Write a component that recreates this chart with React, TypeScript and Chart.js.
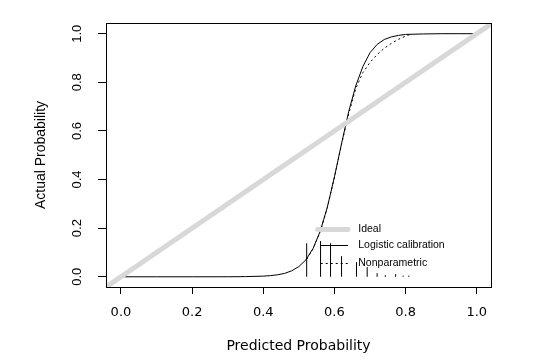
import React, { useEffect, useRef } from "react";
import { Chart, registerables } from "chart.js";
Chart.register(...registerables);

const FONT = "'Liberation Sans', Arial, sans-serif";
const WIDE_FONT = "'DejaVu Sans', 'Liberation Sans', sans-serif";

const tickValues = [0, 0.2, 0.4, 0.6, 0.8, 1.0];
const xTitle = "Predicted Probability";
const yTitle = "Actual Probability";

const idealX = [-0.1, 1.1];
const idealY = [-0.1, 1.1];

const logisticX = [0, 0.1, 0.2, 0.3, 0.35, 0.4, 0.42, 0.44, 0.46, 0.48, 0.5, 0.52, 0.54, 0.56, 0.58, 0.6, 0.62, 0.64, 0.66, 0.68, 0.7, 0.72, 0.74, 0.76, 0.78, 0.8, 0.85, 0.9, 0.95, 1.0];
const logisticY = [0, 0, 0, 0.0001, 0.0007, 0.0027, 0.0047, 0.0082, 0.014, 0.0246, 0.042, 0.07, 0.117, 0.187, 0.286, 0.411, 0.548, 0.679, 0.786, 0.865, 0.922, 0.956, 0.976, 0.987, 0.993, 0.997, 0.999, 1, 1, 1];

const nonparX = [0.522, 0.54, 0.56, 0.58, 0.6, 0.62, 0.64, 0.66, 0.68, 0.7, 0.72, 0.74, 0.76, 0.78, 0.8, 0.817];
const nonparY = [0.072, 0.115, 0.185, 0.285, 0.41, 0.545, 0.67, 0.775, 0.84, 0.882, 0.914, 0.94, 0.96, 0.977, 0.99, 1.0];

const spikeX = [0.522, 0.561, 0.589, 0.62, 0.662, 0.692, 0.72, 0.743, 0.772, 0.793, 0.809];
const spikeH = [0.138, 0.147, 0.138, 0.085, 0.06, 0.04, 0.015, 0.007, 0.011, 0.005, 0.005];

const legendLabels = ["Ideal", "Logistic calibration", "Nonparametric"];
const legendRowY = [0.196, 0.13, 0.055];
const legendLineX = [0.553, 0.638];
const legendTextX = 0.667;

const GRAY = "#d8d8d8";

const boxAndLegend = {
  id: "boxAndLegend",
  afterDatasetsDraw(chart: any) {
    const { ctx, chartArea, scales } = chart;
    const xs = scales.x;
    const ys = scales.y;
    ctx.save();
    const styles = [
      { color: GRAY, width: 5, dash: [] as number[] },
      { color: "#000", width: 1, dash: [] as number[] },
      { color: "#000", width: 1, dash: [2, 3] },
    ];
    legendLabels.forEach((lab, i) => {
      const y = Math.round(ys.getPixelForValue(legendRowY[i])) + 0.5;
      const x0 = xs.getPixelForValue(legendLineX[0]) + (i === 0 ? 0 : 3);
      const x1 = xs.getPixelForValue(legendLineX[1]);
      ctx.strokeStyle = styles[i].color;
      ctx.lineWidth = styles[i].width;
      ctx.setLineDash(styles[i].dash);
      ctx.lineCap = i === 0 ? "round" : "butt";
      ctx.beginPath();
      ctx.moveTo(x0, y);
      ctx.lineTo(x1, y);
      ctx.stroke();
      ctx.setLineDash([]);
      ctx.fillStyle = "#000";
      ctx.font = `10.5px ${FONT}`;
      ctx.textAlign = "left";
      ctx.textBaseline = "middle";
      ctx.fillText(lab, xs.getPixelForValue(legendTextX), y);
    });
    ctx.strokeStyle = "#000";
    ctx.lineWidth = 1;
    ctx.setLineDash([]);
    ctx.strokeRect(
      Math.round(chartArea.left) + 0.5,
      Math.round(chartArea.top) + 0.5,
      Math.round(chartArea.right - chartArea.left),
      Math.round(chartArea.bottom - chartArea.top)
    );
    ctx.restore();
  },
};

export default function App() {
  const ref = useRef<HTMLCanvasElement | null>(null);
  useEffect(() => {
    if (!ref.current) return;
    const spikeData: any[] = [];
    spikeX.forEach((x, i) => {
      spikeData.push({ x, y: 0 });
      spikeData.push({ x, y: spikeH[i] });
      spikeData.push({ x, y: null });
    });
    const chart = new Chart(ref.current, {
      type: "line",
      data: {
        datasets: [
          {
            label: "Ideal",
            data: idealX.map((x, i) => ({ x, y: idealY[i] })),
            borderColor: GRAY,
            borderWidth: 5,
            pointRadius: 0,
            clip: 0,
          } as any,
          {
            label: "Spikes",
            data: spikeData,
            borderColor: "#000",
            borderWidth: 1,
            pointRadius: 0,
            spanGaps: false,
            clip: 0,
          },
          {
            label: "Logistic calibration",
            data: logisticX.map((x, i) => ({ x, y: logisticY[i] })),
            borderColor: "#000",
            borderWidth: 1,
            pointRadius: 0,
            tension: 0,
            clip: 0,
          },
          {
            label: "Nonparametric",
            data: nonparX.map((x, i) => ({ x, y: nonparY[i] })),
            borderColor: "#000",
            borderWidth: 1,
            borderDash: [2, 3],
            pointRadius: 0,
            tension: 0,
            clip: 0,
          },
        ],
      },
      options: {
        animation: false,
        responsive: false,
        maintainAspectRatio: false,
        devicePixelRatio: 1,
        layout: { padding: { left: 0, top: 23, right: 43, bottom: 0 } },
        plugins: { legend: { display: false }, tooltip: { enabled: false } },
        scales: {
          x: {
            type: "linear",
            min: -0.042,
            max: 1.04,
            afterBuildTicks: (s: any) => {
              s.ticks = tickValues.map((v) => ({ value: v }));
            },
            afterFit: (s: any) => {
              s.height = 74;
            },
            grid: {
              display: true,
              drawOnChartArea: false,
              drawTicks: true,
              tickLength: 7,
              tickColor: "#000",
              color: "#000",
            },
            border: { display: false },
            ticks: {
              autoSkip: false,
              maxRotation: 0,
              minRotation: 0,
              padding: 11,
              color: "#000",
              font: { family: WIDE_FONT, size: 13 },
              callback: (v: any) => Number(v).toFixed(1),
            },
            title: {
              display: true,
              text: xTitle,
              color: "#000",
              font: { family: WIDE_FONT, size: 14 },
              padding: { top: 0, bottom: 6.6 },
            },
          },
          y: {
            type: "linear",
            min: -0.042,
            max: 1.044,
            afterBuildTicks: (s: any) => {
              s.ticks = tickValues.map((v) => ({ value: v }));
            },
            afterFit: (s: any) => {
              s.width = 106;
            },
            grid: {
              display: true,
              drawOnChartArea: false,
              drawTicks: true,
              tickLength: 8,
              tickColor: "#000",
              color: "#000",
            },
            border: { display: false },
            ticks: {
              autoSkip: false,
              minRotation: 90,
              maxRotation: 90,
              crossAlign: "center",
              padding: 11.5,
              color: "#000",
              font: { family: FONT, size: 13 },
              callback: (v: any) => Number(v).toFixed(1),
            },
            title: {
              display: true,
              text: yTitle,
              color: "#000",
              font: { family: FONT, size: 14 },
              padding: { top: 32.6, bottom: 0 },
            },
          },
        },
      } as any,
      plugins: [boxAndLegend],
    });
    return () => chart.destroy();
  }, []);
  return (
    <div style={{ position: "absolute", left: 0, top: 0, width: 534, height: 361, background: "#fff" }}>
      <canvas ref={ref} width={534} height={361} style={{ display: "block", width: 534, height: 361 }} />
    </div>
  );
}
